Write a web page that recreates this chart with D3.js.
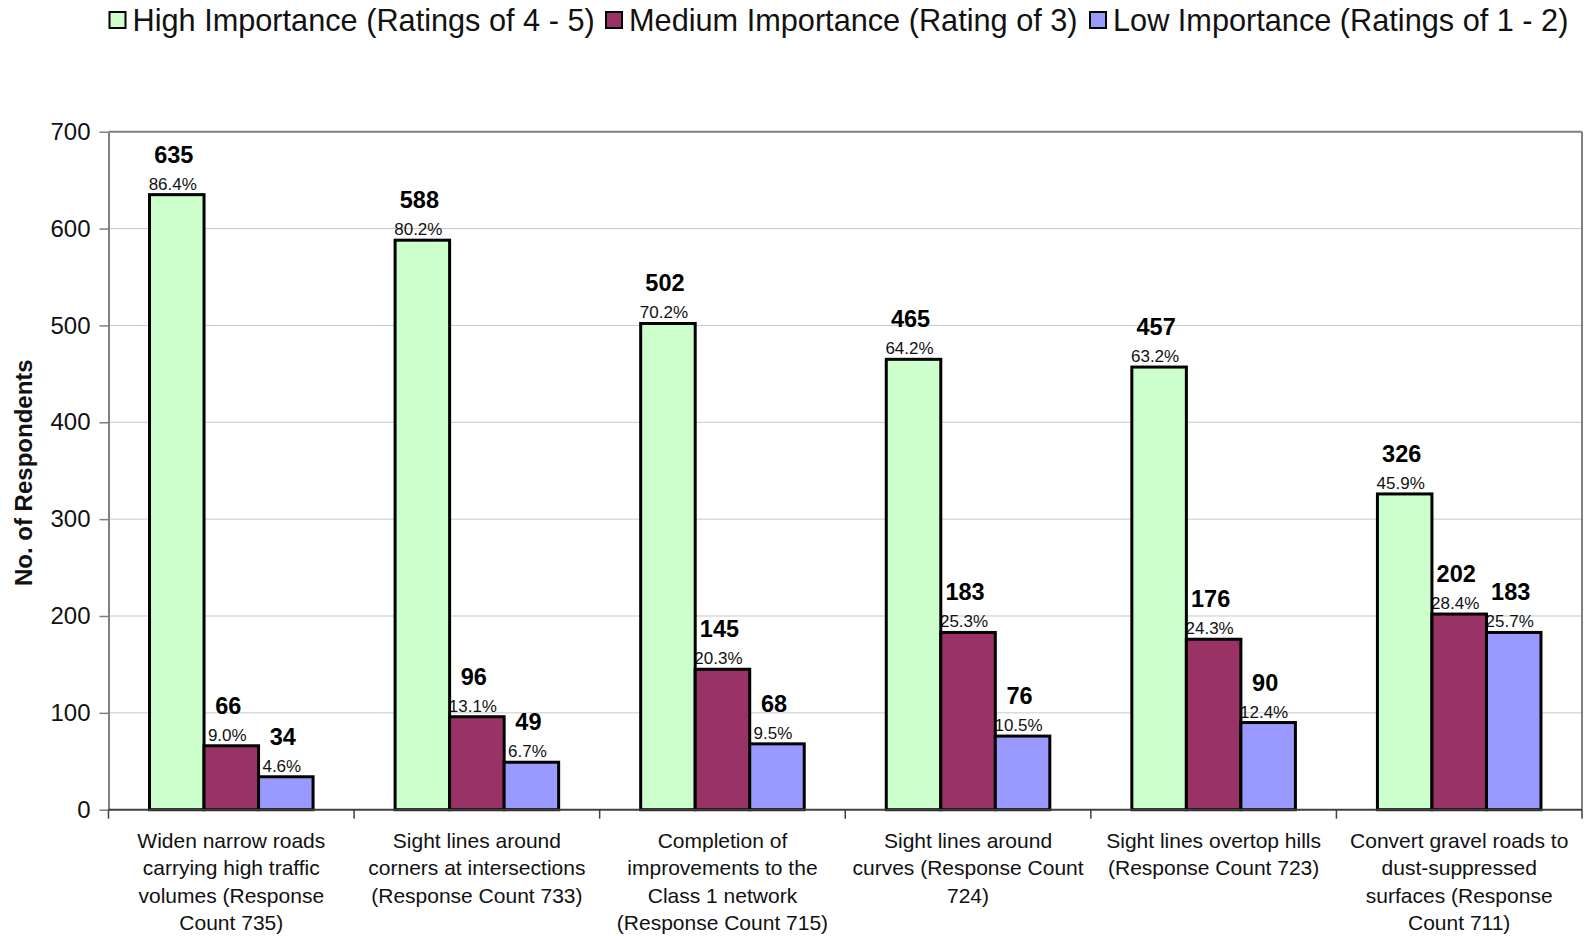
<!DOCTYPE html>
<html><head><meta charset="utf-8">
<script src="https://cdn.jsdelivr.net/npm/d3@7"></script>
<style>body{margin:0;background:#fff}svg{display:block;font-family:"Liberation Sans",Arial,sans-serif}</style>
</head><body><svg id="c" width="1589" height="936"></svg>
<script>
const categories = [
  "Widen narrow roads|carrying high traffic|volumes (Response|Count 735)",
  "Sight lines around|corners at intersections|(Response Count 733)",
  "Completion of|improvements to the|Class 1 network|(Response Count 715)",
  "Sight lines around|curves (Response Count|724)",
  "Sight lines overtop hills|(Response Count 723)",
  "Convert gravel roads to|dust-suppressed|surfaces (Response|Count 711)"
];
const seriesNames = ["High Importance (Ratings of 4 - 5)","Medium Importance (Rating of 3)","Low Importance (Ratings of 1 - 2)"];
const seriesColors = ["#CCFFCC","#993366","#9999FF"];
const highValues = [635,588,502,465,457,326];
const mediumValues = [66,96,145,183,176,202];
const lowValues = [34,49,68,76,90,183];
const highPct = ["86.4%","80.2%","70.2%","64.2%","63.2%","45.9%"];
const mediumPct = ["9.0%","13.1%","20.3%","25.3%","24.3%","28.4%"];
const lowPct = ["4.6%","6.7%","9.5%","10.5%","12.4%","25.7%"];
const yTicks = [0,100,200,300,400,500,600,700];
const yTitle = "No. of Respondents";

const values = [highValues, mediumValues, lowValues];
const pcts = [highPct, mediumPct, lowPct];
const svg = d3.select("#c");
const L = 108.5, R = 1582, T = 131.7, B = 809.7;

const x = d3.scaleBand().domain(d3.range(categories.length)).range([L,R]).padding(0);
const bw = x.bandwidth();
const xi = d3.scaleBand().domain(d3.range(3)).range([bw*0.167, bw*(1-0.167)]).padding(0);
const y = d3.scaleLinear().domain([0,700]).range([B,T]);

// gridlines
svg.append("g").selectAll("line").data(yTicks.filter(d=>d>0&&d<700)).join("line")
  .attr("x1",L).attr("x2",R).attr("y1",d=>y(d)).attr("y2",d=>y(d))
  .attr("stroke","#c8c8c8").attr("stroke-width",1);
// top & right border
svg.append("line").attr("x1",L).attr("x2",R).attr("y1",T).attr("y2",T).attr("stroke","#808080").attr("stroke-width",2);
svg.append("line").attr("x1",R).attr("x2",R).attr("y1",T).attr("y2",B).attr("stroke","#808080").attr("stroke-width",2);

// y axis
const yAxis = svg.append("g").attr("transform",`translate(${L},0)`)
  .call(d3.axisLeft(y).tickValues(yTicks).tickSize(9).tickPadding(9).tickSizeOuter(0));
yAxis.select(".domain").attr("stroke","#808080").attr("stroke-width",2);
yAxis.selectAll(".tick line").attr("stroke","#808080").attr("stroke-width",1.5);
yAxis.selectAll("text").attr("font-size",24).attr("fill","#111").attr("font-family","Liberation Sans, Arial, sans-serif");

// y title
svg.append("text").attr("transform",`translate(32,${(T+B)/2+2}) rotate(-90)`)
  .attr("text-anchor","middle").attr("font-size",24).attr("font-weight","bold").attr("fill","#111").text(yTitle);

// percent labels drawn under bars
const groups = svg.append("g").selectAll("g").data(categories).join("g")
  .attr("transform",(d,i)=>`translate(${x(i)},0)`);
groups.each(function(c,ci){
  const g = d3.select(this);
  for(let s=0;s<3;s++){
    const v = values[s][ci];
    g.append("text").attr("x",xi(s)+xi.bandwidth()/2-4).attr("y",y(v)-5)
      .attr("text-anchor","middle").attr("font-size",17).attr("fill","#111").text(pcts[s][ci]);
  }
});
groups.each(function(c,ci){
  const g = d3.select(this);
  for(let s=0;s<3;s++){
    const v = values[s][ci];
    g.append("rect").attr("x",xi(s)).attr("y",y(v)).attr("width",xi.bandwidth()).attr("height",B-y(v))
      .attr("fill",seriesColors[s]).attr("stroke","#000").attr("stroke-width",3);
    g.append("text").attr("x",xi(s)+xi.bandwidth()/2-3).attr("y",y(v)-32)
      .attr("text-anchor","middle").attr("font-size",23.5).attr("font-weight","bold").attr("fill","#000").text(v);
  }
});

// x axis
const xb = d3.scaleLinear().domain([0,categories.length]).range([L,R]);
svg.append("line").attr("x1",L).attr("x2",R).attr("y1",B).attr("y2",B).attr("stroke","#404040").attr("stroke-width",2);
svg.append("g").selectAll("line").data(d3.range(categories.length+1)).join("line")
  .attr("x1",d=>xb(d)).attr("x2",d=>xb(d)).attr("y1",B).attr("y2",B+9).attr("stroke","#404040").attr("stroke-width",1.5);
svg.append("g").selectAll("text").data(categories).join("text")
  .attr("x",(d,i)=>x(i)+bw/2).attr("y",848).attr("text-anchor","middle").attr("font-size",21).attr("fill","#111")
  .each(function(d){
    const t=d3.select(this);
    d.split("|").forEach((ln,k)=>t.append("tspan").attr("x",t.attr("x")).attr("dy",k?27.4:0).text(ln));
  });

// legend
const legX = [109.5, 606, 1090];
const lg = svg.append("g").selectAll("g").data(seriesNames).join("g")
  .attr("transform",(d,i)=>`translate(${legX[i]},12)`);
lg.append("rect").attr("width",16).attr("height",16).attr("fill",(d,i)=>seriesColors[i]).attr("stroke","#000").attr("stroke-width",2);
lg.append("text").attr("x",23).attr("y",18.5).attr("font-size",30.7).attr("fill","#111").text(d=>d);
</script></body></html>
